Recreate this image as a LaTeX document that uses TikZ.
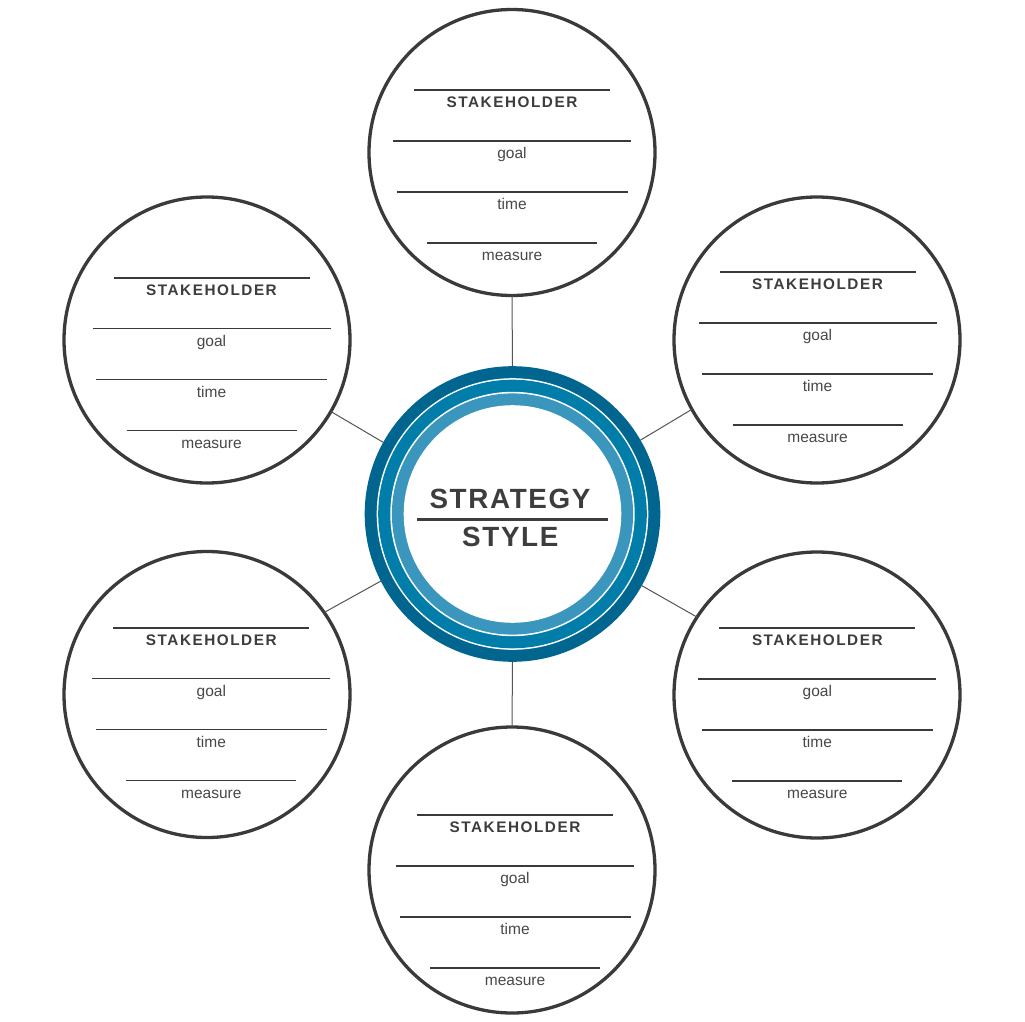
\documentclass[tikz,border=0pt]{standalone}
\usepackage{fontspec}
\setmainfont{Liberation Sans}
\newfontfamily\stakefont[LetterSpace=10]{Liberation Sans}
\newfontfamily\bigfont[LetterSpace=6]{Liberation Sans}
\definecolor{ringdark}{RGB}{0,102,143}
\definecolor{ringmid}{RGB}{0,125,168}
\definecolor{ringlight}{RGB}{58,150,188}
\definecolor{inkgrey}{RGB}{58,58,58}
\definecolor{textgrey}{RGB}{61,61,61}
\definecolor{labelgrey}{RGB}{72,72,72}
\definecolor{linkgrey}{RGB}{85,85,85}
\tikzset{
  stakecirc/.style={circle, draw=inkgrey, line width=3.3pt, minimum size=286pt, inner sep=0pt, outer sep=0pt},
  headrule/.style={draw=inkgrey, line width=2.3pt},
  fieldrule/.style={draw=inkgrey, line width=1.1pt},
  stakelabel/.style={anchor=base, inner sep=0pt, text=textgrey, font=\stakefont\bfseries\fontsize{15.3pt}{16pt}\selectfont},
  fieldlabel/.style={anchor=base, inner sep=0pt, text=labelgrey, font=\fontsize{15.5pt}{16pt}\selectfont},
  biglabel/.style={anchor=base, inner sep=0pt, text=textgrey, font=\bigfont\bfseries\fontsize{27.8pt}{30pt}\selectfont},
  link/.style={draw=linkgrey, line width=1pt}
}
\newcommand\stakecircle[5]{%
  \node[stakecirc] (#1) at (#2,#3) {};
  \begin{scope}[shift={(#4,#5)}]
    \draw[headrule] (-98,0) -- (98,0);
    \node[stakelabel] (#1-title) at (0,17.7) {STAKEHOLDER};
    \draw[fieldrule] (-119,51) -- (119,51);
    \node[fieldlabel] (#1-goal) at (0,68.5) {goal};
    \draw[fieldrule] (-115.5,102) -- (115.5,102);
    \node[fieldlabel] (#1-time) at (0,119.5) {time};
    \draw[fieldrule] (-85,153) -- (85,153);
    \node[fieldlabel] (#1-measure) at (0,170.5) {measure};
  \end{scope}
}
\begin{document}
\begin{tikzpicture}[x=1pt,y=-1pt]
\useasboundingbox (0,0) rectangle (1025,1022);
\fill[white] (0,0) rectangle (1025,1022);
% centre
\node[circle, fill=ringdark, minimum size=295.6pt, inner sep=0pt, outer sep=0pt] (c) at (512.5,514) {};
\fill[white] (c.center) circle[radius=135.8pt];
\fill[ringmid] (c.center) circle[radius=134.3pt];
\fill[white] (c.center) circle[radius=122.2pt];
\fill[ringlight] (c.center) circle[radius=120.6pt];
\fill[white] (c.center) circle[radius=108.8pt];
\node[biglabel] (strategy) at (510,508.3) {STRATEGY};
\draw[draw=textgrey, line width=3pt] (417,519) -- (608,519);
\node[biglabel] (style) at (510.3,546) {STYLE};
% stakeholders
\stakecircle{t}{512}{152.5}{512}{90}
\stakecircle{ul}{207}{340}{211.5}{277.7}
\stakecircle{ur}{817}{340}{817.5}{272}
\stakecircle{ll}{207}{694.5}{211.3}{627.7}
\stakecircle{lr}{817}{695}{817.3}{628}
\stakecircle{b}{512}{870}{515}{815}
% connectors
\draw[link] (c.90) -- (t.270);
\draw[link] (c.270) -- (b.90);
\draw[link] (c.151) -- (ul.330);
\draw[link] (c.207) -- (ll.35);
\draw[link] (c.30) -- (ur.209);
\draw[link] (c.331) -- (lr.147);
\end{tikzpicture}
\end{document}
